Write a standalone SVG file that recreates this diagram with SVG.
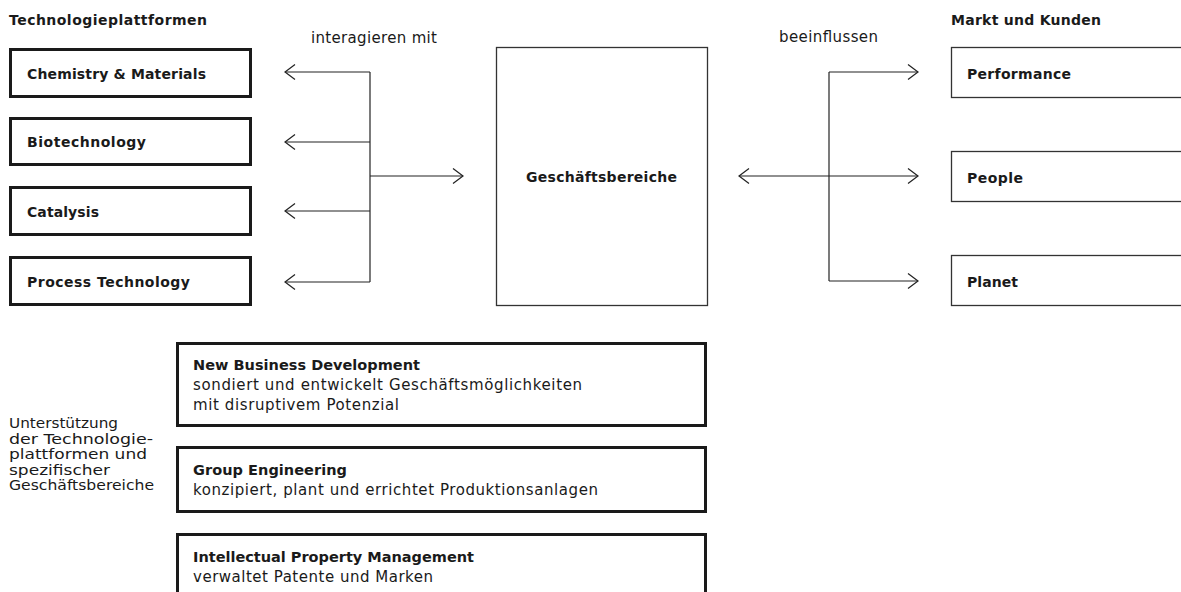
<svg xmlns="http://www.w3.org/2000/svg" width="1181" height="592" viewBox="0 0 1181 592">
<defs>
<style>
text{font-family:"DejaVu Sans","Liberation Sans",sans-serif;fill:#1a1a1a}
.b{font-weight:bold;font-size:14px}
.r{font-size:15px}
.l{font-size:13.5px}
.bb{font-weight:bold;font-size:14.5px}
.rb{font-size:15px}
.thick{fill:#fff;stroke:#1a1a1a;stroke-width:3}
.thin{fill:#fff;stroke:#333;stroke-width:1.3}
.con{fill:none;stroke:#222;stroke-width:1.2}
</style>
<marker id="ah" markerUnits="userSpaceOnUse" viewBox="0 0 12 16" refX="11" refY="8" markerWidth="12" markerHeight="16" orient="auto-start-reverse">
<path d="M1,0.5 L11,8 L1,15.5" fill="none" stroke="#222" stroke-width="1.2"/>
</marker>
</defs>
<rect width="1181" height="592" fill="#fff"/>

<text class="b" x="9" y="25" textLength="198">Technologieplattformen</text>
<text class="b" x="951" y="25" textLength="150">Markt und Kunden</text>
<text class="r" x="311" y="43" textLength="126">interagieren mit</text>
<text class="r" x="779" y="42" textLength="99">beeinflussen</text>

<g id="connectors">
<path class="con" d="M370,72 V282"/>
<path class="con" d="M370,72 H285" marker-end="url(#ah)"/>
<path class="con" d="M370,142 H285" marker-end="url(#ah)"/>
<path class="con" d="M370,211 H285" marker-end="url(#ah)"/>
<path class="con" d="M370,282 H285" marker-end="url(#ah)"/>
<path class="con" d="M370,176 H463" marker-end="url(#ah)"/>
<path class="con" d="M739,176 H918" marker-start="url(#ah)" marker-end="url(#ah)"/>
<path class="con" d="M829,72 V281"/>
<path class="con" d="M829,72 H918" marker-end="url(#ah)"/>
<path class="con" d="M829,281 H918" marker-end="url(#ah)"/>
</g>

<g id="chemistry">
<rect class="thick" x="10.5" y="49.5" width="240" height="47"/>
<text class="b" x="27" y="79" textLength="179">Chemistry &amp; Materials</text>
</g>
<g id="biotechnology">
<rect class="thick" x="10.5" y="118.5" width="240" height="46"/>
<text class="b" x="27" y="147" textLength="119">Biotechnology</text>
</g>
<g id="catalysis">
<rect class="thick" x="10.5" y="187.5" width="240" height="47"/>
<text class="b" x="27" y="217" textLength="72">Catalysis</text>
</g>
<g id="process">
<rect class="thick" x="10.5" y="257.5" width="240" height="47"/>
<text class="b" x="27" y="287" textLength="163">Process Technology</text>
</g>

<g id="geschaeftsbereiche">
<rect class="thin" x="496.5" y="47.5" width="211" height="258"/>
<text class="b" x="526" y="182" textLength="151">Geschäftsbereiche</text>
</g>

<g id="performance">
<rect class="thin" x="951.5" y="47.5" width="260" height="50"/>
<text class="b" x="967" y="79" textLength="104">Performance</text>
</g>
<g id="people">
<rect class="thin" x="951.5" y="151.5" width="260" height="50"/>
<text class="b" x="967" y="183" textLength="56">People</text>
</g>
<g id="planet">
<rect class="thin" x="951.5" y="255.5" width="260" height="50"/>
<text class="b" x="967" y="287" textLength="51">Planet</text>
</g>

<g id="support-label">
<text class="l" x="9" y="428" textLength="109" lengthAdjust="spacingAndGlyphs">Unterstützung</text>
<text class="l" x="9" y="443.5" textLength="144" lengthAdjust="spacingAndGlyphs">der Technologie-</text>
<text class="l" x="9" y="459" textLength="138" lengthAdjust="spacingAndGlyphs">plattformen und</text>
<text class="l" x="9" y="474.5" textLength="101" lengthAdjust="spacingAndGlyphs">spezifischer</text>
<text class="l" x="9" y="490" textLength="145" lengthAdjust="spacingAndGlyphs">Geschäftsbereiche</text>
</g>

<g id="new-business">
<rect class="thick" x="177.5" y="343.5" width="528" height="82"/>
<text class="bb" x="193" y="370" textLength="227">New Business Development</text>
<text class="rb" x="193" y="390" textLength="389">sondiert und entwickelt Geschäftsmöglichkeiten</text>
<text class="rb" x="193" y="410" textLength="206">mit disruptivem Potenzial</text>
</g>
<g id="group-engineering">
<rect class="thick" x="177.5" y="447.5" width="528" height="64"/>
<text class="bb" x="193" y="475" textLength="154">Group Engineering</text>
<text class="rb" x="193" y="495" textLength="405">konzipiert, plant und errichtet Produktionsanlagen</text>
</g>
<g id="ip-management">
<rect class="thick" x="177.5" y="534.5" width="528" height="80"/>
<text class="bb" x="193" y="562" textLength="281">Intellectual Property Management</text>
<text class="rb" x="193" y="582" textLength="240">verwaltet Patente und Marken</text>
</g>
</svg>
